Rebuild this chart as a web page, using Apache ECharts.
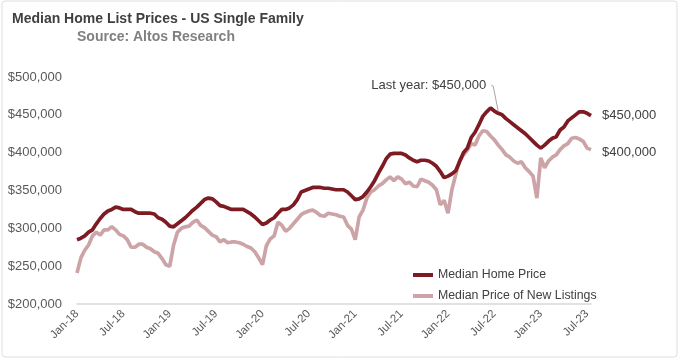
<!DOCTYPE html>
<html>
<head>
<meta charset="utf-8">
<script src="https://cdn.jsdelivr.net/npm/echarts@6/dist/echarts.min.js"></script>
<style>
html,body{margin:0;padding:0;background:#fff;}
#chart{width:680px;height:361px;}
</style>
</head>
<body>
<div id="chart"></div>
<script>
// Half-monthly points, Jan 2018 .. mid-Jul 2023
const tickLabels = ['Jan-18','Jul-18','Jan-19','Jul-19','Jan-20','Jul-20','Jan-21','Jul-21','Jan-22','Jul-22','Jan-23','Jul-23'];

const medianHomePrice = [
 285,287,290,295,298,306,313,319,323,325,328,327,
 325,325,325,322,320,320,320,320,319,314,312,308,
 303,302,306,310,314,319,324,328,333,338,340,339,
 335,330,329,327,325,325,325,325,322,319,315,310,
 305,307,311,314,320,325,325,327,331,338,348,350,
 352,354,354,354,353,353,352,351,351,351,348,343,
 338,339,342,348,355,363,373,382,392,398,399,399,
 399,397,393,390,388,390,390,389,386,382,375,367,
 369,372,376,388,400,406,420,427,437,448,454,459,
 455,452,450,445,441,437,433,429,425,420,415,410,
 406,410,415,419,421,430,434,442,446,450,454,454,
 452,449
].map(v => v * 1000);

const medianNewListingPrice = [
 241,261,271,278,290,295,291,298,298,302,298,292,
 290,285,275,275,279,279,275,273,269,267,260,252,
 250,278,295,300,302,303,308,311,304,301,296,291,
 289,282,285,281,282,282,281,279,276,274,269,261,
 252,277,286,290,308,304,296,300,306,312,318,321,
 323,324,321,317,316,320,319,318,316,315,304,299,
 285,315,324,340,348,351,356,359,364,368,363,368,
 365,359,361,356,355,365,363,361,357,351,331,337,
 320,351,371,390,397,403,412,410,422,429,428,422,
 417,410,404,397,394,389,386,388,380,375,369,340,
 393,380,389,394,397,404,409,412,419,420,418,415,
 406,404
].map(v => v * 1000);

const seriesNames = ['Median Home Price', 'Median Price of New Listings'];
const endLabels = ['$450,000', '$400,000'];
const annotationText = 'Last year: $450,000';
const annotationIndex = 109;

const monthNames = ['Jan','Feb','Mar','Apr','May','Jun','Jul','Aug','Sep','Oct','Nov','Dec'];
const categories = [];
for (let y = 2018; y <= 2023; y++) {
  for (let m = 0; m < 12; m++) {
    for (const d of ['01','16']) {
      if (categories.length < medianHomePrice.length) {
        categories.push(monthNames[m] + ' ' + d + ' ' + y);
      }
    }
  }
}

const fmtMoney = v => '$' + String(v).replace(/\B(?=(\d{3})+(?!\d))/g, ',');
const FONT = "'Liberation Sans',Arial,sans-serif";
const DARK = '#7d1a22';
const LIGHT = '#cca3a7';

const chart = echarts.init(document.getElementById('chart'), null, {renderer: 'canvas'});
chart.setOption({
  backgroundColor: '#ffffff',
  animation: false,
  title: [
    {
      text: 'Median Home List Prices - US Single Family',
      left: 12, top: 12, padding: 0,
      textStyle: {fontFamily: FONT, fontWeight: 'bold', fontSize: 14, color: '#404040'}
    },
    {
      text: 'Source: Altos Research',
      left: 77, top: 30, padding: 0,
      textStyle: {fontFamily: FONT, fontWeight: 'bold', fontSize: 14, color: '#808080'}
    }
  ],
  grid: {left: 77, right: 89, top: 77, bottom: 57, containLabel: false},
  legend: {
    orient: 'vertical',
    left: 413, top: 268, padding: 0,
    itemWidth: 20, itemHeight: 4, itemGap: 7,
    icon: 'rect',
    data: seriesNames,
    textStyle: {fontFamily: FONT, fontSize: 12.3, color: '#404040', lineHeight: 14}
  },
  xAxis: {
    type: 'category',
    data: categories,
    boundaryGap: false,
    axisLine: {show: true, lineStyle: {color: '#d9d9d9', width: 1.5}},
    axisTick: {show: false},
    axisLabel: {
      rotate: 45,
      margin: 8,
      interval: (i) => i % 12 === 0,
      formatter: (val, i) => tickLabels[Math.floor(i / 12)],
      fontFamily: FONT, fontSize: 11.5, color: '#595959'
    },
    splitLine: {show: false}
  },
  yAxis: {
    type: 'value',
    min: 200000, max: 500000, interval: 50000,
    axisLine: {show: false},
    axisTick: {show: false},
    splitLine: {show: false},
    axisLabel: {formatter: fmtMoney, margin: 15, fontFamily: FONT, fontSize: 13, color: '#595959'}
  },
  series: [
    {
      name: seriesNames[0], type: 'line', data: medianHomePrice,
      showSymbol: false, symbol: 'none', z: 3,
      lineStyle: {color: DARK, width: 3.7}, itemStyle: {color: DARK},
      endLabel: {show: true, formatter: endLabels[0], distance: 11, fontFamily: FONT, fontSize: 13, color: '#404040'}
    },
    {
      name: seriesNames[1], type: 'line', data: medianNewListingPrice,
      showSymbol: false, symbol: 'none', z: 2,
      lineStyle: {color: LIGHT, width: 3.7}, itemStyle: {color: LIGHT},
      endLabel: {show: true, formatter: endLabels[1], distance: 11, offset: [0, 3], fontFamily: FONT, fontSize: 13, color: '#404040'}
    }
  ]
});

const a = chart.convertToPixel({seriesIndex: 0}, [annotationIndex, medianHomePrice[annotationIndex]]);
chart.setOption({
  graphic: [
    {type: 'rect', shape: {x: 2, y: 1, width: 675, height: 356, r: 3}, style: {fill: 'none', stroke: '#dedede', lineWidth: 1}, silent: true, z: -1},
    {type: 'polyline', shape: {points: [[a[0], a[1] - 2], [a[0] - 5, a[1] - 27], [a[0] - 7, a[1] - 28]]}, style: {stroke: '#a6a6a6', lineWidth: 1, fill: 'none'}, z: 10},
    {type: 'text', x: a[0] - 12, y: a[1] - 28, style: {text: annotationText, align: 'right', verticalAlign: 'middle', font: "13px 'Liberation Sans', Arial, sans-serif", fill: '#404040'}, z: 10}
  ]
});
</script>
</body>
</html>
